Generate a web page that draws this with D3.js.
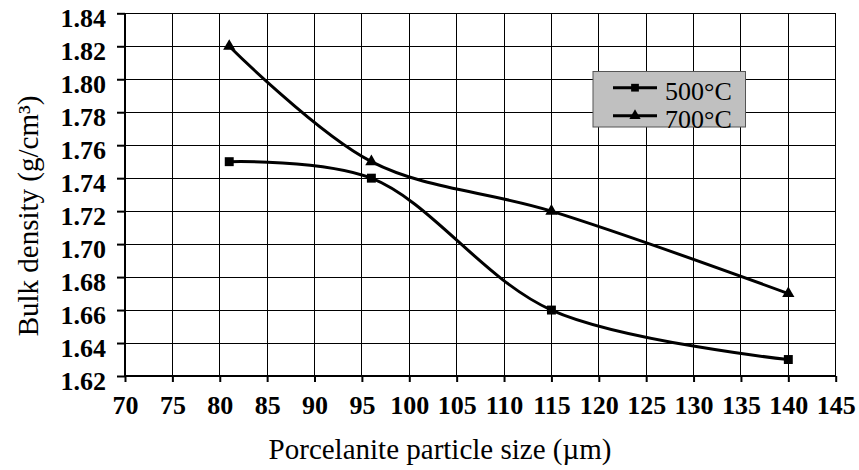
<!DOCTYPE html>
<html><head><meta charset="utf-8">
<script src="https://cdn.jsdelivr.net/npm/d3@7"></script>
<style>body{margin:0;background:#fff}svg{display:block}</style>
</head><body>
<svg id="c" width="859" height="470"></svg>
<script>
const particleSize = [81, 96, 115, 140];
const density500 = [1.75, 1.74, 1.66, 1.63];
const density700 = [1.82, 1.75, 1.72, 1.67];
const seriesNames = ["500°C", "700°C"];
const xTicks = [70,75,80,85,90,95,100,105,110,115,120,125,130,135,140,145];
const yTicks = [1.62,1.64,1.66,1.68,1.70,1.72,1.74,1.76,1.78,1.80,1.82,1.84];

const svg = d3.select("#c");
const L = 125, R = 835.7, T = 13.3, B = 376;
const x = d3.scaleLinear().domain([70,145]).range([L,R]);
const y = d3.scaleLinear().domain([1.62,1.84]).range([B,T]);
const serif = "'Liberation Serif','Times New Roman',serif";

// grid
const g = svg.append("g");
g.selectAll("line.v").data(xTicks).enter().append("line")
  .attr("x1", d=>x(d)).attr("x2", d=>x(d)).attr("y1", T).attr("y2", B)
  .attr("stroke", "#000").attr("stroke-width", 1).attr("shape-rendering","crispEdges");
g.selectAll("line.h").data(yTicks).enter().append("line")
  .attr("x1", L).attr("x2", R).attr("y1", d=>y(d)).attr("y2", d=>y(d))
  .attr("stroke", "#000").attr("stroke-width", 1).attr("shape-rendering","crispEdges");

// axes
const xAxis = d3.axisBottom(x).tickValues(xTicks).tickSize(6).tickPadding(14).tickFormat(d3.format("d"));
const yAxis = d3.axisLeft(y).tickValues(yTicks).tickSize(8).tickPadding(11).tickFormat(d3.format(".2f"));
const ax = svg.append("g").attr("transform", `translate(0,${B})`).call(xAxis);
const ay = svg.append("g").attr("transform", `translate(${L},0)`).call(yAxis);
[ax, ay].forEach(a => {
  a.attr("font-size", null).attr("font-family", null);
  a.select(".domain").attr("stroke","#000").attr("stroke-width",2);
  a.selectAll(".tick line").attr("stroke","#000").attr("stroke-width",2);
  a.selectAll("text").style("font-family", serif).style("font-weight","bold")
    .style("font-size", "26px").attr("fill","#000");
});
ay.selectAll("text").attr("dy", "0.52em");
ax.select(".domain").attr("d", `M${L},0H${R}`);
ay.select(".domain").attr("d", `M0,${T}V${B}`);

// axis titles
svg.append("text").attr("x", 440).attr("y", 459).attr("text-anchor","middle")
  .style("font-family", serif).style("font-size", "29px").text("Porcelanite particle size (µm)");
svg.append("text").attr("transform", `translate(38,216) rotate(-90)`)
  .attr("text-anchor","middle").style("font-family", serif).style("font-size", "29px")
  .text("Bulk density (g/cm³)");

// lines
const series = [density500, density700];
const line = d3.line().x(d=>x(d[0])).y(d=>y(d[1])).curve(d3.curveCatmullRom.alpha(0.5));
series.forEach((vals, i) => {
  const pts = particleSize.map((p,j)=>[p, vals[j]]);
  svg.append("path").attr("d", line(pts)).attr("fill","none").attr("stroke","#000").attr("stroke-width",3);
  const sym = d3.symbol().type(i===0 ? d3.symbolSquare : d3.symbolTriangle).size(i===0 ? 80 : 65);
  svg.selectAll(null).data(pts).enter().append("path")
    .attr("d", sym).attr("transform", d=>`translate(${x(d[0])},${y(d[1])})`).attr("fill","#000");
});

// legend
const lg = svg.append("g");
lg.append("rect").attr("x", 593).attr("y", 71.5).attr("width", 152.5).attr("height", 55.5)
  .attr("fill", "#c0c0c0").attr("stroke", "#555").attr("stroke-width", 1);
seriesNames.forEach((n,i) => {
  const yy = 87.7 + i*28;
  lg.append("line").attr("x1", 613).attr("x2", 657).attr("y1", yy).attr("y2", yy)
    .attr("stroke","#000").attr("stroke-width",3);
  lg.append("path").attr("d", d3.symbol().type(i===0 ? d3.symbolSquare : d3.symbolTriangle).size(i===0?60:55))
    .attr("transform", `translate(635,${yy})`).attr("fill","#000");
  lg.append("text").attr("x", 665).attr("y", yy + 12.3).style("font-family", serif)
    .style("font-size", "26px").text(n);
});
</script>
</body></html>
